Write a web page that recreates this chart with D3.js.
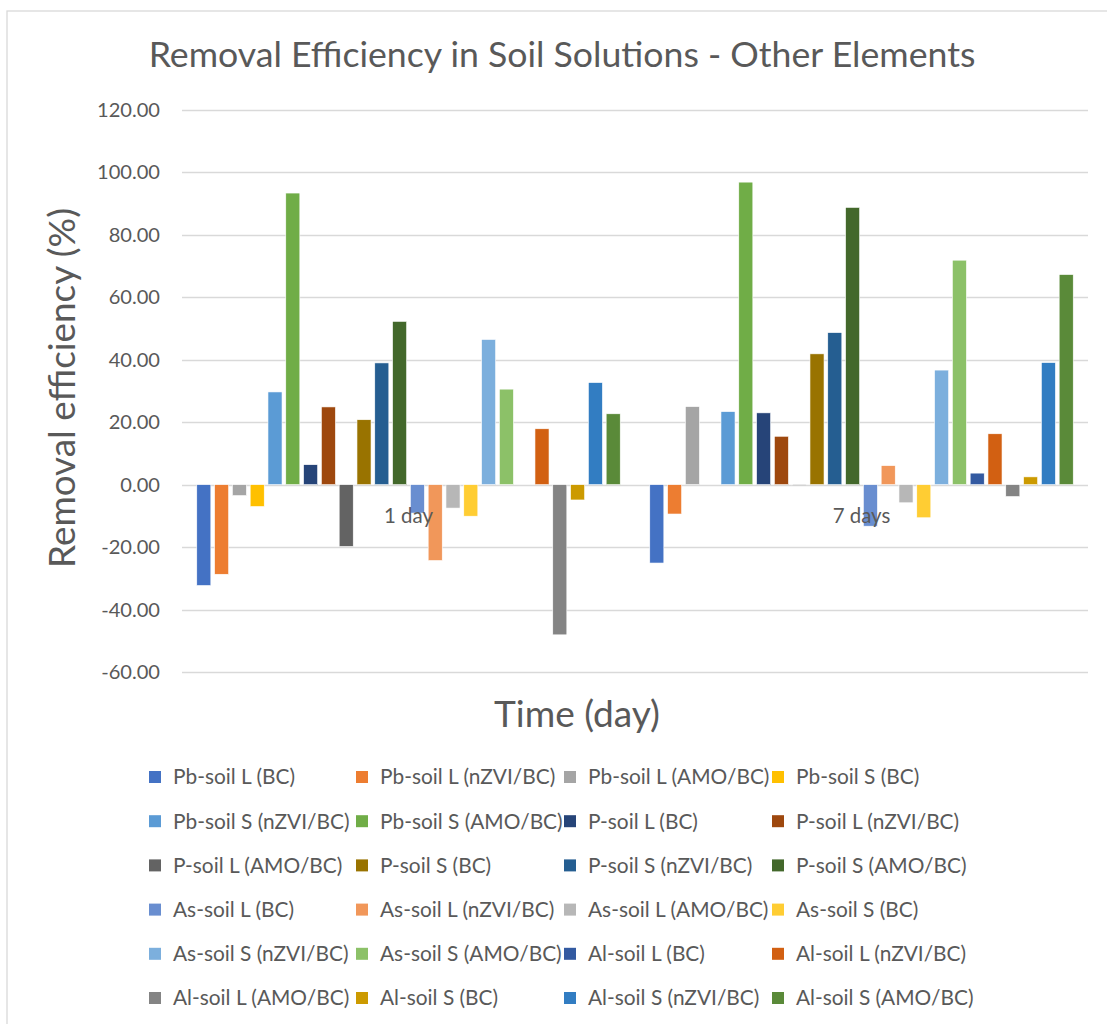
<!DOCTYPE html>
<html><head><meta charset="utf-8">
<script src="https://cdn.jsdelivr.net/npm/d3@7"></script>
<style>body{margin:0;background:#fff}svg{display:block}text{font-family:Lato,"Open Sans",sans-serif;fill:#595959}</style>
</head><body>
<svg id="c" width="1107" height="1024"></svg>
<script>
const categories = ["1 day", "7 days"];
const seriesNames = [
  "Pb-soil L (BC)","Pb-soil L (nZVI/BC)","Pb-soil L (AMO/BC)","Pb-soil S (BC)",
  "Pb-soil S (nZVI/BC)","Pb-soil S (AMO/BC)","P-soil L (BC)","P-soil L (nZVI/BC)",
  "P-soil L (AMO/BC)","P-soil S (BC)","P-soil S (nZVI/BC)","P-soil S (AMO/BC)",
  "As-soil L (BC)","As-soil L (nZVI/BC)","As-soil L (AMO/BC)","As-soil S (BC)",
  "As-soil S (nZVI/BC)","As-soil S (AMO/BC)","Al-soil L (BC)","Al-soil L (nZVI/BC)",
  "Al-soil L (AMO/BC)","Al-soil S (BC)","Al-soil S (nZVI/BC)","Al-soil S (AMO/BC)"
];
const values1day = [-32.3,-28.7,-3.5,-7.0,29.7,93.4,6.4,24.9,-19.8,20.8,39.0,52.3,
  -9.1,-24.3,-7.5,-10.1,46.5,30.6,0,17.9,-48.1,-4.9,32.7,22.7];
const values7days = [-25.1,-9.4,25.0,0,23.4,96.9,23.0,15.5,-0.3,41.9,48.7,88.8,
  -13.3,6.1,-5.8,-10.6,36.7,71.9,3.7,16.3,-3.8,2.5,39.1,67.3];
const seriesColors = ["#4472C4","#ED7D31","#A5A5A5","#FFC000","#5B9BD5","#70AD47",
  "#264478","#9E480E","#636363","#997300","#255E91","#43682B",
  "#698ED0","#F1975A","#B7B7B7","#FFCD33","#7CAFDD","#8CC168",
  "#335AA1","#D26012","#848484","#CC9A00","#327DC2","#5A8A39"];
const yTicks = [120,100,80,60,40,20,0,-20,-40,-60];
const title = "Removal Efficiency in Soil Solutions - Other Elements";
const yTitle = "Removal efficiency (%)";
const xTitle = "Time (day)";

const svg = d3.select("#c");
function fitSize(str, base, w){
  const tmp = svg.append("text").attr("font-size",base).text(str);
  const cur = tmp.node().getComputedTextLength(); tmp.remove();
  return +(base*w/cur).toFixed(2);
}
svg.append("rect").attr("x",7).attr("y",11).attr("width",1120).attr("height",1030)
  .attr("fill","none").attr("stroke","#D9D9D9").attr("stroke-width",1.3);

const pLeft=182, pRight=1088, pTop=110, pBottom=672;
const y = d3.scaleLinear().domain([-60,120]).range([pBottom, pTop]);
const x0 = d3.scaleBand().domain(categories).range([pLeft,pRight]).padding(0);
const x1 = d3.scaleBand().domain(seriesNames).range([0,x0.bandwidth()]).paddingInner(0.21).paddingOuter(0.83);

svg.append("g").selectAll("line").data(yTicks).join("line")
  .attr("x1",pLeft).attr("x2",pRight).attr("y1",d=>Math.round(y(d))+0.5).attr("y2",d=>Math.round(y(d))+0.5)
  .attr("stroke","#D9D9D9").attr("stroke-width",1.3);
const tickFs = fitSize("120.00", 18, 63);
svg.append("g").selectAll("text").data(yTicks).join("text")
  .attr("x",160).attr("y",d=>y(d)).attr("dy","0.35em").attr("text-anchor","end")
  .attr("font-size",tickFs).text(d=>d.toFixed(2));

const data = categories.map((c,i)=>({cat:c, vals: seriesNames.map((s,j)=>({s, v:(i===0?values1day:values7days)[j], j}))}));
const g = svg.append("g").selectAll("g").data(data).join("g").attr("transform",d=>`translate(${x0(d.cat)},0)`);
g.selectAll("rect").data(d=>d.vals).join("rect")
  .attr("x",d=>x1(d.s)).attr("width",x1.bandwidth())
  .attr("y",d=>y(Math.max(0,d.v))).attr("height",d=>Math.abs(y(d.v)-y(0)))
  .attr("fill",d=>seriesColors[d.j]).attr("stroke","#fff").attr("stroke-width",0.6);

const catFs = fitSize("1 day", 18, 49);
svg.append("g").selectAll("text").data(categories).join("text")
  .attr("x",d=>x0(d)+x0.bandwidth()/2).attr("y",y(0)+38).attr("text-anchor","middle")
  .attr("font-size",catFs).text(d=>d);

svg.append("text").attr("x",562).attr("y",67).attr("text-anchor","middle")
  .attr("font-size",fitSize(title,31,827)).text(title);
svg.append("text").attr("transform","translate(75,388) rotate(-90)").attr("text-anchor","middle")
  .attr("font-size",fitSize(yTitle,30,360)).text(yTitle);
svg.append("text").attr("x",577).attr("y",727).attr("text-anchor","middle")
  .attr("font-size",fitSize(xTitle,30,166)).text(xTitle);

const lg = svg.append("g");
const legFs = fitSize("Pb-soil L (BC)", 18, 122);
const colX = [155,362,570,778], rowY0 = 777, rowStep = 44.2;
seriesNames.forEach((s,i)=>{
  const cx = colX[i%4], cy = rowY0 + Math.floor(i/4)*rowStep;
  lg.append("rect").attr("x",cx-6).attr("y",cy-6).attr("width",12).attr("height",12).attr("fill",seriesColors[i]);
  lg.append("text").attr("x",cx+18).attr("y",cy).attr("dy","0.35em").attr("font-size",legFs).text(s);
});
</script>
</body></html>
